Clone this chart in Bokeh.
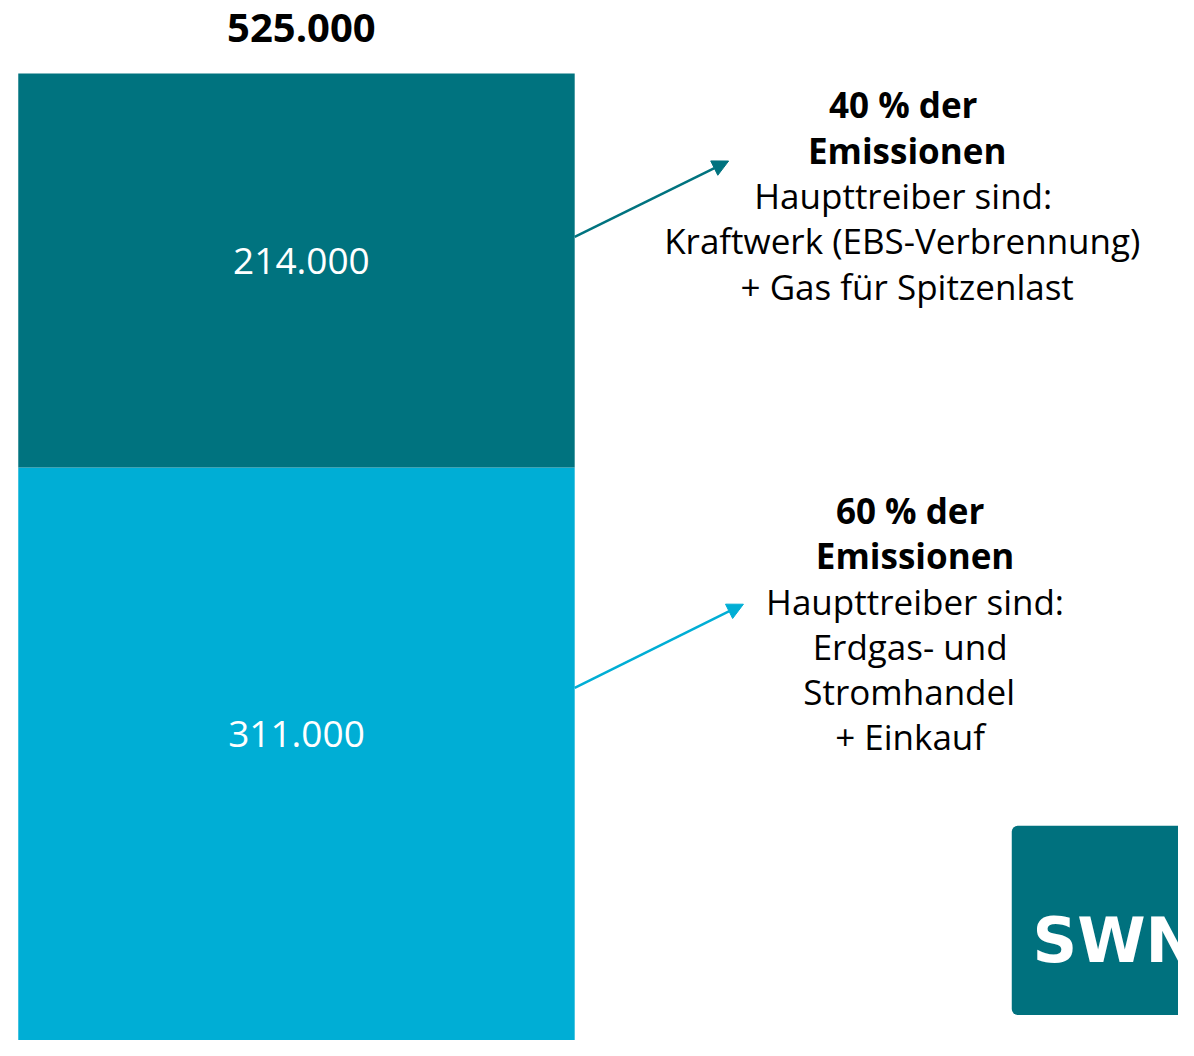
from bokeh.plotting import figure
from bokeh.models import Range1d, Label, Arrow, NormalHead, BoxAnnotation, ColumnDataSource
from bokeh.embed import file_html
from bokeh.resources import INLINE

# ---- data ----
segments = ["Sonstige", "Kraftwerk"]
values = [311000, 214000]
value_labels = ["311.000", "214.000"]
total = sum(values)
total_label = "525.000"
colors = ["#00AED5", "#00737F"]

block_top = ["40 % der", "Emissionen", "Haupttreiber sind:", "Kraftwerk (EBS-Verbrennung)", "+ Gas für Spitzenlast"]
block_bottom = ["60 % der", "Emissionen", "Haupttreiber sind:", "Erdgas- und", "Stromhandel", "+ Einkauf"]

W, H = 1178, 1040          # figure size in pixels
RW, RH = 1194, 1056        # layout coordinate space
FONT = "Open Sans"

# value scale: bar top at layout y 74, bottom at layout y 1056
units_per_px = total / (1056 - 74)
y_end = total + 74 * units_per_px

p = figure(width=W, height=H, output_backend="svg", toolbar_location=None,
           x_range=Range1d(0, RW), y_range=Range1d(0, y_end),
           min_border=0, outline_line_color=None)
p.axis.visible = False
p.grid.visible = False
p.background_fill_color = "white"
p.border_fill_color = "white"
p.extra_y_ranges = {"page": Range1d(start=RH, end=0)}

bottoms = [0, values[0]]
tops = [values[0], total]
src = ColumnDataSource(dict(bottom=bottoms, top=tops, color=colors,
                            mid=[(b + t) / 2 for b, t in zip(bottoms, tops)],
                            label=value_labels))
p.vbar(x=300, width=564, bottom="bottom", top="top", fill_color="color",
       line_color=None, source=src)

label_x = [300, 305]
label_off = [20, 9]
for i in range(2):
    p.add_layout(Label(x=label_x[i], y=src.data["mid"][i], text=value_labels[i],
                       text_color="white", text_font=FONT, text_font_size="37px",
                       text_align="center", text_baseline="middle",
                       y_offset=label_off[i]))

p.add_layout(Label(x=305, y=total, text=total_label, text_color="black",
                   text_font=FONT, text_font_style="bold", text_font_size="40px",
                   text_align="center", text_baseline="middle", y_offset=45))

# annotation blocks (layout coordinates)
top_xs = [915, 919, 915, 914, 919]
top_ys = [106, 152, 198, 244, 290]
for i, t in enumerate(block_top):
    p.add_layout(Label(x=top_xs[i], y=top_ys[i], y_range_name="page", text=t,
                       text_font=FONT, text_font_size="35px",
                       text_font_style="bold" if i < 2 else "normal",
                       text_color="black", text_align="center", text_baseline="middle"))
bot_xs = [922, 927, 927, 922, 921, 922]
bot_ys = [518, 564, 610, 656, 702, 747]
for i, t in enumerate(block_bottom):
    p.add_layout(Label(x=bot_xs[i], y=bot_ys[i], y_range_name="page", text=t,
                       text_font=FONT, text_font_size="35px",
                       text_font_style="bold" if i < 2 else "normal",
                       text_color="black", text_align="center", text_baseline="middle"))

# arrows
p.add_layout(Arrow(x_start=582, y_start=240, x_end=738, y_end=163,
                   y_range_name="page", line_color=colors[1], line_width=2.5,
                   end=NormalHead(size=16, fill_color=colors[1], line_color=colors[1])))
p.add_layout(Arrow(x_start=582, y_start=698, x_end=753, y_end=613,
                   y_range_name="page", line_color=colors[0], line_width=2.5,
                   end=NormalHead(size=16, fill_color=colors[0], line_color=colors[0])))

# logo
p.add_layout(BoxAnnotation(left=1025, right=1240, top=838, bottom=1030,
                           y_range_name="page", fill_color="#00717E", fill_alpha=1,
                           line_color=None, border_radius=6))
p.add_layout(Label(x=1046, y=954, y_range_name="page", text="SWN",
                   text_font="DejaVu Sans", text_font_style="bold",
                   text_font_size="62px", text_color="white",
                   text_align="left", text_baseline="middle"))

open("out.html", "w").write(file_html(p, INLINE))
